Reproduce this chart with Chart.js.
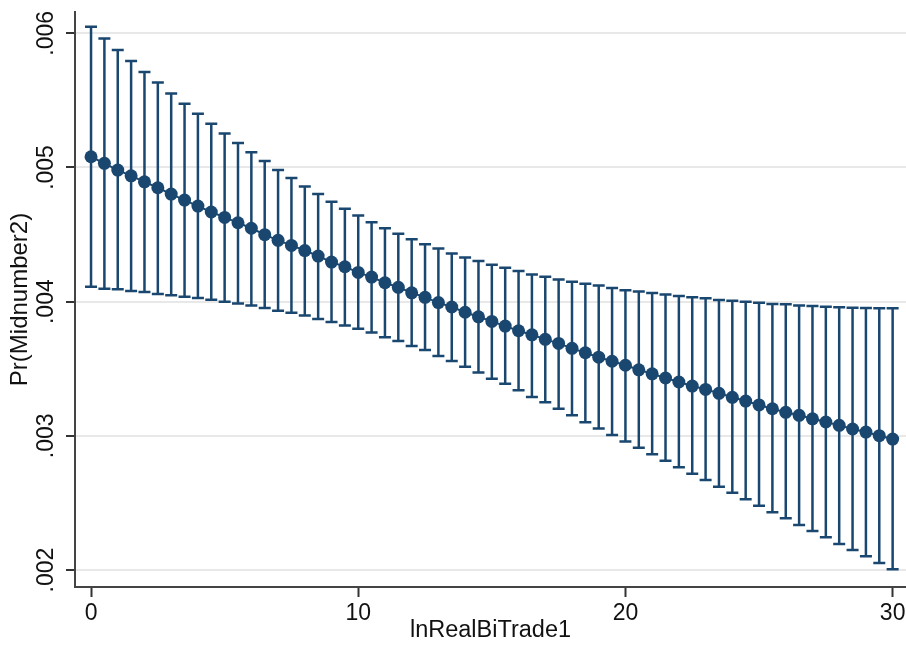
<!DOCTYPE html>
<html>
<head>
<meta charset="utf-8">
<script src="https://cdn.jsdelivr.net/npm/chart.js@4/dist/chart.umd.min.js"></script>
<style>
  html, body { margin: 0; padding: 0; background: #fff; overflow: hidden; }
  canvas { display: block; }
</style>
</head>
<body>
<canvas id="grafico" width="906" height="650"></canvas>
<script>
// lnRealBiTrade1 values (x)
const xValores = [
  0, 0.5, 1, 1.5, 2, 2.5, 3, 3.5, 4, 4.5, 5, 5.5, 6, 6.5, 7, 7.5, 8, 8.5, 9, 9.5,
  10, 10.5, 11, 11.5, 12, 12.5, 13, 13.5, 14, 14.5, 15, 15.5, 16, 16.5, 17, 17.5,
  18, 18.5, 19, 19.5, 20, 20.5, 21, 21.5, 22, 22.5, 23, 23.5, 24, 24.5, 25, 25.5,
  26, 26.5, 27, 27.5, 28, 28.5, 29, 29.5, 30
];

// Pr(Midnumber2) margins
const margens = [
  0.005080, 0.005031, 0.004981, 0.004938, 0.004893, 0.004849, 0.004802, 0.004757,
  0.004712, 0.004668, 0.004628, 0.004588, 0.004547, 0.004499, 0.004457, 0.004419,
  0.004381, 0.004340, 0.004295, 0.004260, 0.004218, 0.004183, 0.004141, 0.004107,
  0.004066, 0.004032, 0.003993, 0.003960, 0.003921, 0.003887, 0.003853, 0.003818,
  0.003783, 0.003753, 0.003719, 0.003689, 0.003652, 0.003619, 0.003586, 0.003556,
  0.003526, 0.003492, 0.003462, 0.003431, 0.003401, 0.003371, 0.003346, 0.003317,
  0.003287, 0.003259, 0.003230, 0.003202, 0.003175, 0.003153, 0.003127, 0.003103,
  0.003078, 0.003051, 0.003028, 0.003001, 0.002976
];

// upper limit of the confidence interval
const limiteSuperior = [
  0.006048, 0.005962, 0.005875, 0.005793, 0.005711, 0.005634, 0.005552, 0.005475,
  0.005400, 0.005326, 0.005254, 0.005183, 0.005113, 0.005048, 0.004981, 0.004921,
  0.004859, 0.004802, 0.004744, 0.004692, 0.004643, 0.004591, 0.004548, 0.004506,
  0.004466, 0.004427, 0.004396, 0.004358, 0.004330, 0.004303, 0.004275, 0.004253,
  0.004228, 0.004203, 0.004186, 0.004166, 0.004148, 0.004133, 0.004120, 0.004101,
  0.004085, 0.004075, 0.004064, 0.004053, 0.004043, 0.004032, 0.004025, 0.004012,
  0.004007, 0.003999, 0.003992, 0.003982, 0.003980, 0.003972, 0.003967, 0.003962,
  0.003958, 0.003955, 0.003952, 0.003950, 0.003950
];

// lower limit of the confidence interval
const limiteInferior = [
  0.004111, 0.004096, 0.004092, 0.004079, 0.004072, 0.004057, 0.004047, 0.004037,
  0.004027, 0.004014, 0.003999, 0.003986, 0.003971, 0.003952, 0.003932, 0.003917,
  0.003896, 0.003870, 0.003848, 0.003823, 0.003798, 0.003771, 0.003734, 0.003706,
  0.003669, 0.003639, 0.003595, 0.003557, 0.003514, 0.003472, 0.003425, 0.003388,
  0.003339, 0.003289, 0.003250, 0.003202, 0.003153, 0.003101, 0.003054, 0.003006,
  0.002958, 0.002911, 0.002862, 0.002814, 0.002766, 0.002717, 0.002671, 0.002621,
  0.002576, 0.002527, 0.002479, 0.002430, 0.002385, 0.002335, 0.002291, 0.002244,
  0.002194, 0.002149, 0.002102, 0.002052, 0.002005
];

const ticksX = [0, 10, 20, 30];
const ticksY = [0.002, 0.003, 0.004, 0.005, 0.006];

const corAzul = "#1a476f";
const fonte = "'Liberation Sans', Arial, Helvetica, sans-serif";

// draws the CI spikes with caps under the markers
const barrasErro = {
  id: "barrasErro",
  beforeDatasetsDraw(chart) {
    const ctx = chart.ctx;
    const escalaX = chart.scales.x;
    const escalaY = chart.scales.y;

    ctx.save();
    ctx.strokeStyle = corAzul;
    ctx.lineWidth = 2.5;

    xValores.forEach((x, i) => {
      const px = escalaX.getPixelForValue(x);
      const topo = escalaY.getPixelForValue(limiteSuperior[i]);
      const base = escalaY.getPixelForValue(limiteInferior[i]);

      ctx.beginPath();
      ctx.moveTo(px, topo);
      ctx.lineTo(px, base);
      ctx.moveTo(px - 6, topo);
      ctx.lineTo(px + 6, topo);
      ctx.moveTo(px - 6, base);
      ctx.lineTo(px + 6, base);
      ctx.stroke();
    });

    ctx.restore();
  },
};

new Chart(document.getElementById("grafico"), {
  type: "scatter",

  data: {
    datasets: [
      {
        data: xValores.map((x, i) => ({ x: x, y: margens[i] })),
        showLine: true,
        borderColor: corAzul,
        borderWidth: 2,
        backgroundColor: corAzul,
        pointBackgroundColor: corAzul,
        pointBorderColor: corAzul,
        pointRadius: 6.5,
        pointBorderWidth: 0,
      },
    ],
  },

  options: {
    responsive: false,
    animation: false,
    events: [],

    layout: {
      autoPadding: false,
      padding: { top: 12, right: 0, bottom: 0, left: 0 },
    },

    plugins: {
      legend: { display: false },
      tooltip: { enabled: false },
    },

    scales: {
      x: {
        type: "linear",
        min: -0.6,
        max: 30.5,
        afterBuildTicks: (escala) => {
          escala.ticks = ticksX.map((v) => ({ value: v }));
        },
        afterFit: (escala) => {
          escala.height = 63;
          escala.paddingLeft = 0;
          escala.paddingRight = 0;
        },
        ticks: {
          color: "#111",
          font: { family: fonte, size: 23 },
          padding: 3,
          maxRotation: 0,
          callback: (v) => String(v),
        },
        grid: {
          drawOnChartArea: false,
          drawTicks: true,
          tickLength: 10,
          tickColor: "#333",
          tickWidth: 2,
        },
        border: { color: "#444", width: 2 },
        title: {
          display: true,
          text: "lnRealBiTrade1",
          color: "#111",
          font: { family: fonte, size: 23.5 },
          padding: { top: 0, bottom: 5 },
        },
      },

      y: {
        type: "linear",
        min: 0.0018733,
        max: 0.0061588,
        afterBuildTicks: (escala) => {
          escala.ticks = ticksY.map((v) => ({ value: v }));
        },
        afterFit: (escala) => {
          escala.width = 75;
          escala.paddingTop = 0;
          escala.paddingBottom = 0;
        },
        ticks: {
          color: "#111",
          font: { family: fonte, size: 23 },
          minRotation: 90,
          maxRotation: 90,
          crossAlign: "center",
          padding: -2.7,
          callback: (v) => v.toFixed(3).replace(/^0/, ""),
        },
        grid: {
          color: "#e8e8e8",
          lineWidth: 2,
          drawTicks: true,
          tickLength: 9,
          tickColor: "#333",
          tickWidth: 2,
        },
        border: { color: "#444", width: 2 },
        title: {
          display: true,
          text: "Pr(Midnumber2)",
          color: "#111",
          font: { family: fonte, size: 24 },
          padding: { top: 6, bottom: 0 },
        },
      },
    },
  },

  plugins: [barrasErro],
});
</script>
</body>
</html>
